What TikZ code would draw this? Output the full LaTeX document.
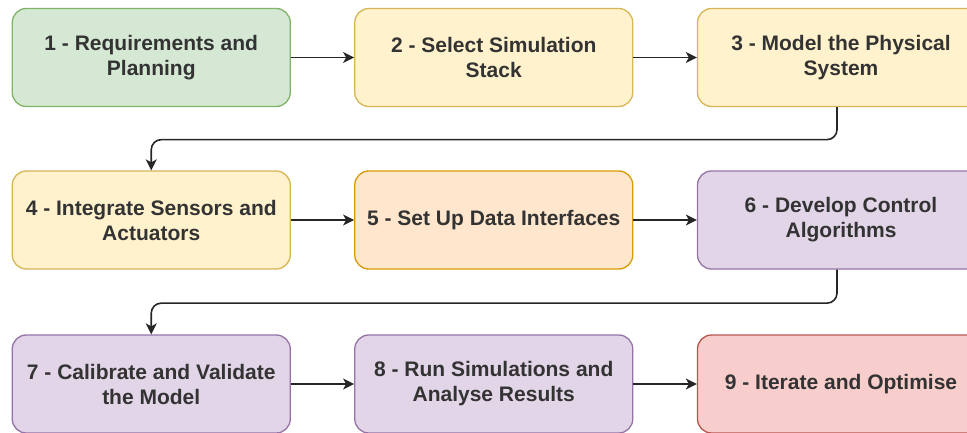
\documentclass[tikz,border=0pt]{standalone}
\usepackage{fontspec}
\setmainfont{Liberation Sans}
\usetikzlibrary{arrows.meta}

\definecolor{greenfill}{HTML}{D5E8D4}
\definecolor{greenline}{HTML}{82B366}
\definecolor{yellowfill}{HTML}{FFF2CC}
\definecolor{yellowline}{HTML}{D6B656}
\definecolor{orangefill}{HTML}{FFE6CC}
\definecolor{orangeline}{HTML}{D79B00}
\definecolor{purplefill}{HTML}{E1D5E7}
\definecolor{purpleline}{HTML}{9673A6}
\definecolor{redfill}{HTML}{F8CECC}
\definecolor{redline}{HTML}{B85450}

\tikzset{
  stepbox/.style={draw, line width=1.3pt, rounded corners=14pt,
    minimum width=278pt, minimum height=98pt, align=center,
    text=black!80, font=\fontsize{21}{25}\selectfont\bfseries},
  widebox/.style={stepbox, minimum width=287pt},
  link/.style={draw=black!85, line width=1.6pt,
    -{Stealth[length=11pt,width=11pt,inset=3pt]}}
}

\begin{document}
\begin{tikzpicture}[x=1pt,y=1pt]
\useasboundingbox (0,0) rectangle (967,432);
%\draw[help lines,step=50] (0,0) grid (967,432);
\node[stepbox, fill=greenfill, draw=greenline] (n1) at (151.25,374.5) {1 - Requirements and\\Planning};
\node[stepbox, fill=yellowfill, draw=yellowline] (n2) at (493.75,374.5) {2 - Select Simulation\\Stack};
\node[widebox, fill=yellowfill, draw=yellowline] (n3) at (841,374.5) {3 - Model the Physical\\System};
\node[stepbox, fill=yellowfill, draw=yellowline] (n4) at (151.25,212) {4 - Integrate Sensors and\\Actuators};
\node[stepbox, fill=orangefill, draw=orangeline] (n5) at (493.75,212) {5 - Set Up Data Interfaces};
\node[widebox, fill=purplefill, draw=purpleline] (n6) at (841,212) {6 - Develop Control\\Algorithms};
\node[stepbox, fill=purplefill, draw=purpleline] (n7) at (151.25,48) {7 - Calibrate and Validate\\the Model};
\node[stepbox, fill=purplefill, draw=purpleline] (n8) at (493.75,48) {8 - Run Simulations and\\Analyse Results};
\node[widebox, fill=redfill, draw=redline] (n9) at (841,48) {9 - Iterate and Optimise};

\draw[link] (n1) -- (n2);
\draw[link] (n2) -- (n3);
\draw[link, rounded corners=10pt] ([xshift=-4pt]n3.south) -- ++(0,-32.5) -| (n4.north);
\draw[link] (n4) -- (n5);
\draw[link] (n5) -- (n6);
\draw[link, rounded corners=10pt] ([xshift=-4pt]n6.south) -- ++(0,-33.5) -| (n7.north);
\draw[link] (n7) -- (n8);
\draw[link] (n8) -- (n9);
\end{tikzpicture}
\end{document}
